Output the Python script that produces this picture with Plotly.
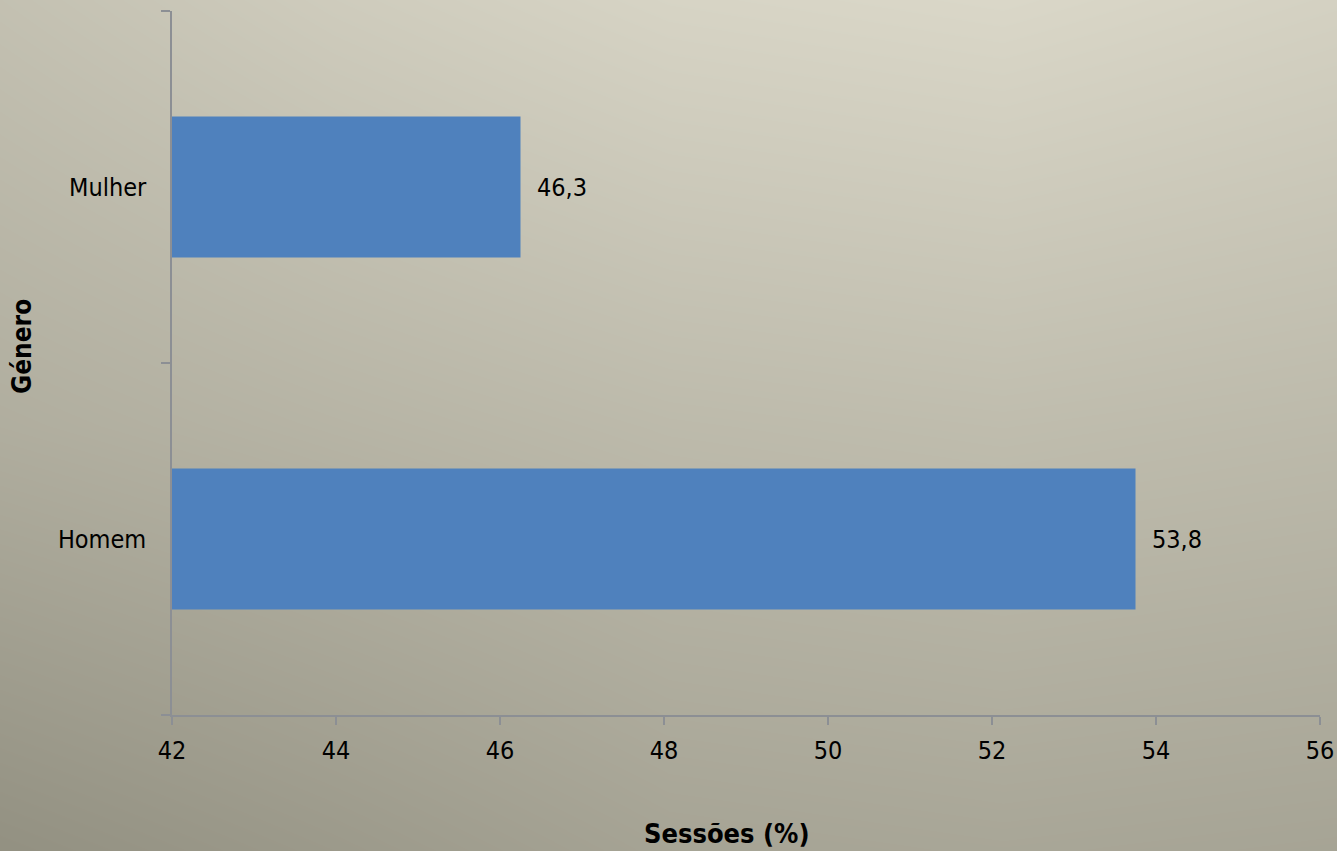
import plotly.graph_objects as go

# ---- data ----
categories = ["Homem", "Mulher"]
sessions_pct = [53.75, 46.25]
value_labels = ["53,8", "46,3"]
x_tick_vals = [42, 44, 46, 48, 50, 52, 54, 56]
x_tick_text = ["42", "44", "46", "48", "50", "52", "54", "56"]

# background gradient (decorative), lightness grid bottom->top rows
bg_x = [-0.05, 0.25, 0.5, 0.75, 1.05]
bg_y = [-0.05, 0.5, 1.05]
bg_z = [
    [0.03, 0.16, 0.28, 0.31, 0.28],
    [0.41, 0.50, 0.57, 0.60, 0.56],
    [0.64, 0.80, 0.90, 0.94, 0.85],
]

FONT = "DejaVu Sans Condensed, DejaVu Sans, sans-serif"
W, H = 1337, 851
AX = "#8c8f94"

fig = go.Figure()

fig.add_trace(go.Heatmap(
    x=bg_x, y=bg_y, z=bg_z, zsmooth="best", showscale=False,
    colorscale=[[0, "#8b897a"], [1, "#e2dfd0"]], zmin=0, zmax=1,
    hoverinfo="skip", xaxis="x", yaxis="y",
))

fig.add_trace(go.Bar(
    x=sessions_pct, y=categories, orientation="h", width=0.4,
    marker=dict(color="#4f81bd", line=dict(width=0)),
    xaxis="x2", yaxis="y2", hoverinfo="x+y",
))

for v, c, t in zip(sessions_pct, categories, value_labels):
    fig.add_annotation(
        x=v, y=c, xref="x2", yref="y2", text=t, showarrow=False,
        xanchor="left", yanchor="middle", xshift=14,
        font=dict(family=FONT, size=25, color="#000000"),
    )

fig.add_annotation(
    x=727 / W, y=1 - 833 / H, xref="paper", yref="paper",
    text="<b>Sessões (%)</b>", showarrow=False,
    xanchor="center", yanchor="middle",
    font=dict(family=FONT, size=27, color="#000000"),
)
fig.add_annotation(
    x=22 / W, y=1 - 347 / H, xref="paper", yref="paper",
    text="<b>Género</b>", showarrow=False, textangle=-90,
    xanchor="center", yanchor="middle",
    font=dict(family=FONT, size=26, color="#000000"),
)

fig.update_layout(
    width=W, height=H, autosize=False,
    margin=dict(l=0, r=0, t=0, b=0, pad=0, autoexpand=False),
    paper_bgcolor="#b8b5a4",
    plot_bgcolor="rgba(0,0,0,0)",
    showlegend=False,
    font=dict(family=FONT, size=25, color="#000000"),
    xaxis=dict(domain=[0, 1], range=[0, 1], visible=False, fixedrange=True,
               automargin=False),
    yaxis=dict(domain=[0, 1], range=[0, 1], visible=False, fixedrange=True,
               automargin=False),
    xaxis2=dict(
        domain=[172 / W, 1320 / W], anchor="y2", range=[42, 56],
        tickvals=x_tick_vals, ticktext=x_tick_text, automargin=False,
        ticks="outside", ticklen=8, tickcolor=AX, tickwidth=1.5,
        showline=True, linecolor=AX, linewidth=1.5,
        showgrid=False, zeroline=False, ticklabelstandoff=4,
        tickfont=dict(family=FONT, size=25, color="#000000"),
    ),
    yaxis2=dict(
        domain=[1 - 715 / H, 1 - 11 / H], anchor="x2", automargin=False,
        type="category", categoryorder="array", categoryarray=categories,
        range=[-0.5, 1.5], tickson="boundaries",
        ticks="outside", ticklen=9, tickcolor=AX, tickwidth=1.5,
        showline=True, linecolor=AX, linewidth=1.5,
        showgrid=False, zeroline=False, ticklabelstandoff=19,
        tickfont=dict(family=FONT, size=25, color="#000000"),
    ),
)

fig.write_html(
    "out.html",
    config={"displayModeBar": False},
    post_script="document.body.style.margin='0';document.body.style.overflow='hidden';",
)
